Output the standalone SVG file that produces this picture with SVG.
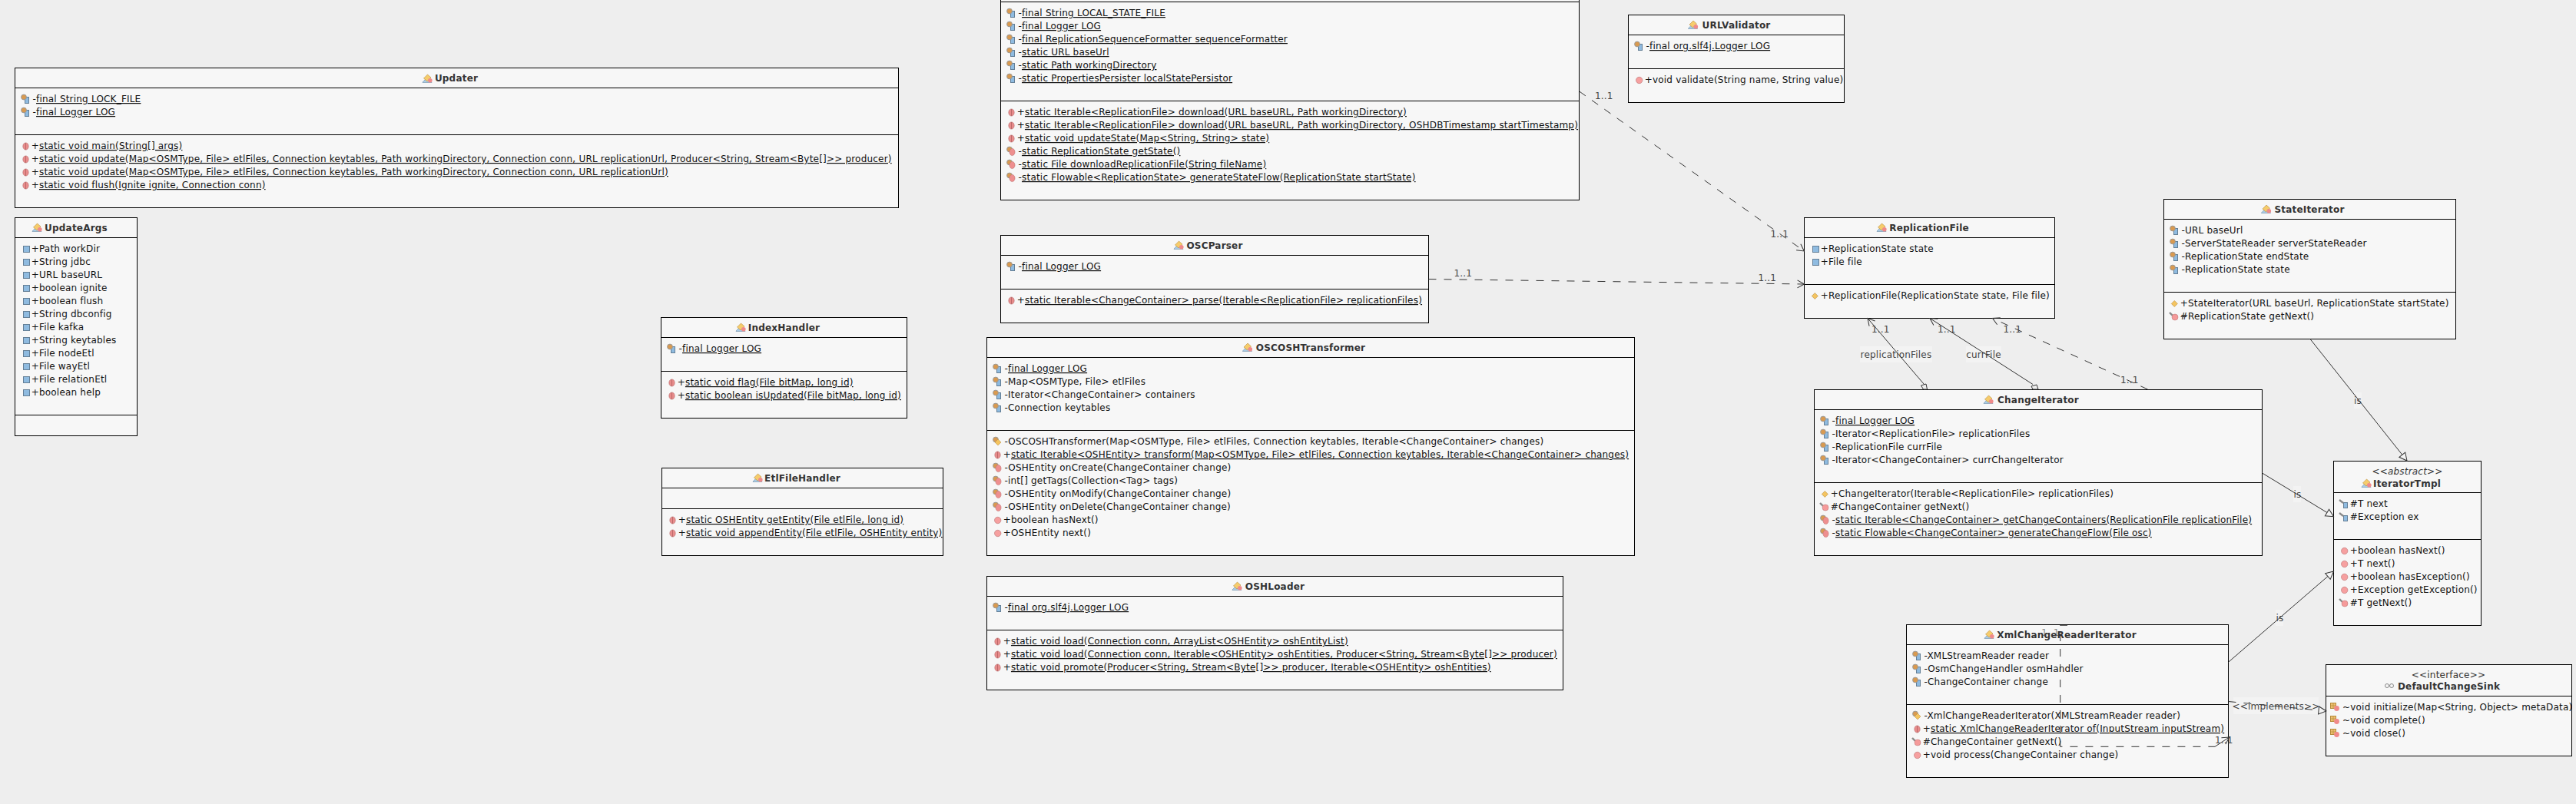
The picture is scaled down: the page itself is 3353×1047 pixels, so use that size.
<svg xmlns="http://www.w3.org/2000/svg" width="3353" height="1047" viewBox="0 0 3353 1047">
<style>
text{font-family:"DejaVu Sans","Liberation Sans",sans-serif;font-size:12px;letter-spacing:.2px}
.b{fill:#f7f7f7;stroke:#000;stroke-width:1}
.s{stroke:#000;stroke-width:1;fill:none}
.t{font-weight:bold;fill:#333;text-anchor:middle}
.r{fill:#111}
.u{text-decoration:underline}
.st{fill:#333;text-anchor:middle}
.i{font-style:italic}
.l{fill:#444}
.lc{fill:#444;text-anchor:middle}
.bg{fill:#f3f3f3}
.c{fill:none;stroke:#333;stroke-width:1}
.d{stroke-dasharray:10 10}
.o{marker-end:url(#open)}
.h{marker-end:url(#tri)}
.ag{fill:#eee;stroke:#333;stroke-width:1}
</style>
<defs>
<marker id="open" markerUnits="userSpaceOnUse" markerWidth="14" markerHeight="14" refX="11" refY="7" orient="auto" overflow="visible"><path d="M2,2 L11,7 L2,12" fill="none" stroke="#333" stroke-width="1"/></marker>
<marker id="tri" markerUnits="userSpaceOnUse" markerWidth="14" markerHeight="14" refX="12" refY="7" orient="auto" overflow="visible"><path d="M2,2 L12,7 L2,12 Z" fill="#f4f4f4" stroke="#333" stroke-width="1"/></marker>
<g id="cl"><path d="M0,5 L6,-1 L12,5 L12,5.5 L0,5.5 Z" fill="#a9cbe6" stroke="#6f8fa8" stroke-width=".6"/><path d="M1.5,0 L6.5,-5 L11,-1 L6,4 Z" fill="#f6cc6c" stroke="#b58a3a" stroke-width=".6"/><circle cx="9.8" cy="2.8" r="2.8" fill="#f08a8a"/></g>
<g id="fb"><rect x="11.5" y="-3.5" width="8" height="8" fill="#8fbbe0" stroke="#647f96"/></g>
<g id="per"><circle cx="5" cy="-2.5" r="3.4" fill="#d99a50" stroke="#9a9a9a" stroke-width="1"/></g>
<g id="fp"><rect x="13.5" y="-2.5" width="5" height="8" fill="#8fbbe0" stroke="#647f96"/><use href="#per" x="7" y="0"/></g>
<g id="fr"><rect x="13.5" y="-1.5" width="5" height="7" fill="#8fbbe0" stroke="#647f96"/><path d="M8,-5 L13,-1" stroke="#8a8a8a" stroke-width="2.4"/></g>
<g id="ms"><ellipse cx="14.5" cy="0.5" rx="3.7" ry="4.6" fill="#e88c8c" stroke="#b87070" stroke-width=".6"/><path d="M14.5,-4 V5" stroke="#b06060" stroke-width=".8"/></g>
<g id="mb"><circle cx="14.7" cy="0.5" r="4.2" fill="#f6a0a0" stroke="#b87070" stroke-width=".6"/></g>
<g id="c"><path d="M14.3,-3.5 L18.3,0.5 L14.3,4.5 L10.3,0.5 Z" fill="#f4c460" stroke="#b58a3a" stroke-width=".6"/></g>
<g id="mp"><use href="#per" x="7" y="0"/><ellipse cx="15.5" cy="1" rx="3.6" ry="4.6" fill="#ee8f8f" stroke="#b87070" stroke-width=".5"/></g>
<g id="mr"><path d="M8,-5 L12,-1" stroke="#8a8a8a" stroke-width="2.4"/><circle cx="15" cy="1" r="4" fill="#f59a9a" stroke="#b87070" stroke-width=".5"/></g>
<g id="cp"><use href="#per" x="7" y="0"/><path d="M15,-3 L19,1 L15,5 L11,1 Z" fill="#f4c460" stroke="#b58a3a" stroke-width=".5"/></g>
<g id="md"><rect x="6.5" y="-5.5" width="7" height="7" fill="#eec070" stroke="#b58a3a"/><path d="M10,-5 V1 M7,-2 H13" stroke="#b58a3a" stroke-width=".7"/><circle cx="14.5" cy="1.5" r="3.4" fill="#f08a8a"/></g>
</defs>
<rect width="3353" height="1047" fill="#eeeeee"/>

<g id="Updater">
<rect class="b" x="19.5" y="88.5" width="1150" height="182"/><path class="s" d="M19.5,114.5H1169.5M19.5,175.5H1169.5"/>
<use href="#cl" x="550" y="102"/><text class="t" x="594" y="106">Updater</text>
<use href="#fp" x="19" y="129"/><text class="r" x="42.5" y="133">-<tspan class="u">final String LOCK_FILE</tspan></text>
<use href="#fp" x="19" y="146"/><text class="r" x="42.5" y="150">-<tspan class="u">final Logger LOG</tspan></text>
<use href="#ms" x="19" y="190"/><text class="r" x="40.7" y="194">+<tspan class="u">static void main(String[] args)</tspan></text>
<use href="#ms" x="19" y="207"/><text class="r" x="40.7" y="211">+<tspan class="u">static void update(Map&lt;OSMType, File&gt; etlFiles, Connection keytables, Path workingDirectory, Connection conn, URL replicationUrl, Producer&lt;String, Stream&lt;Byte[]&gt;&gt; producer)</tspan></text>
<use href="#ms" x="19" y="224"/><text class="r" x="40.7" y="228">+<tspan class="u">static void update(Map&lt;OSMType, File&gt; etlFiles, Connection keytables, Path workingDirectory, Connection conn, URL replicationUrl)</tspan></text>
<use href="#ms" x="19" y="241"/><text class="r" x="40.7" y="245">+<tspan class="u">static void flush(Ignite ignite, Connection conn)</tspan></text>
</g>

<g id="UpdateArgs">
<rect class="b" x="19.5" y="283.5" width="159" height="284"/><path class="s" d="M19.5,309.5H178.5M19.5,540.5H178.5"/>
<use href="#cl" x="42" y="296"/><text class="t" x="99" y="301">UpdateArgs</text>
<use href="#fb" x="19" y="324"/><text class="r" x="40.7" y="328">+Path workDir</text>
<use href="#fb" x="19" y="341"/><text class="r" x="40.7" y="345">+String jdbc</text>
<use href="#fb" x="19" y="358"/><text class="r" x="40.7" y="362">+URL baseURL</text>
<use href="#fb" x="19" y="375"/><text class="r" x="40.7" y="379">+boolean ignite</text>
<use href="#fb" x="19" y="392"/><text class="r" x="40.7" y="396">+boolean flush</text>
<use href="#fb" x="19" y="409"/><text class="r" x="40.7" y="413">+String dbconfig</text>
<use href="#fb" x="19" y="426"/><text class="r" x="40.7" y="430">+File kafka</text>
<use href="#fb" x="19" y="443"/><text class="r" x="40.7" y="447">+String keytables</text>
<use href="#fb" x="19" y="460"/><text class="r" x="40.7" y="464">+File nodeEtl</text>
<use href="#fb" x="19" y="477"/><text class="r" x="40.7" y="481">+File wayEtl</text>
<use href="#fb" x="19" y="494"/><text class="r" x="40.7" y="498">+File relationEtl</text>
<use href="#fb" x="19" y="511"/><text class="r" x="40.7" y="515">+boolean help</text>
</g>

<g id="IndexHandler">
<rect class="b" x="860.5" y="413.5" width="320" height="131"/><path class="s" d="M860.5,439.5H1180.5M860.5,483.5H1180.5"/>
<use href="#cl" x="958" y="426"/><text class="t" x="1020.5" y="431">IndexHandler</text>
<use href="#fp" x="860" y="454"/><text class="r" x="883.5" y="458">-<tspan class="u">final Logger LOG</tspan></text>
<use href="#ms" x="860" y="498"/><text class="r" x="881.7" y="502">+<tspan class="u">static void flag(File bitMap, long id)</tspan></text>
<use href="#ms" x="860" y="515"/><text class="r" x="881.7" y="519">+<tspan class="u">static boolean isUpdated(File bitMap, long id)</tspan></text>
</g>

<g id="EtlFileHandler">
<rect class="b" x="861.5" y="609.5" width="366" height="114"/><path class="s" d="M861.5,635.5H1227.5M861.5,662.5H1227.5"/>
<use href="#cl" x="980" y="622"/><text class="t" x="1044.5" y="627">EtlFileHandler</text>
<use href="#ms" x="861" y="677"/><text class="r" x="882.7" y="681">+<tspan class="u">static OSHEntity getEntity(File etlFile, long id)</tspan></text>
<use href="#ms" x="861" y="694"/><text class="r" x="882.7" y="698">+<tspan class="u">static void appendEntity(File etlFile, OSHEntity entity)</tspan></text>
</g>

<g id="ReplicationState">
<rect class="b" x="1302.5" y="-40.5" width="753" height="301"/><path class="s" d="M1302.5,2.5H2055.5M1302.5,131.5H2055.5"/>
<use href="#fp" x="1302" y="17"/><text class="r" x="1325.5" y="21">-<tspan class="u">final String LOCAL_STATE_FILE</tspan></text>
<use href="#fp" x="1302" y="34"/><text class="r" x="1325.5" y="38">-<tspan class="u">final Logger LOG</tspan></text>
<use href="#fp" x="1302" y="51"/><text class="r" x="1325.5" y="55">-<tspan class="u">final ReplicationSequenceFormatter sequenceFormatter</tspan></text>
<use href="#fp" x="1302" y="68"/><text class="r" x="1325.5" y="72">-<tspan class="u">static URL baseUrl</tspan></text>
<use href="#fp" x="1302" y="85"/><text class="r" x="1325.5" y="89">-<tspan class="u">static Path workingDirectory</tspan></text>
<use href="#fp" x="1302" y="102"/><text class="r" x="1325.5" y="106">-<tspan class="u">static PropertiesPersister localStatePersistor</tspan></text>
<use href="#ms" x="1302" y="146"/><text class="r" x="1323.7" y="150">+<tspan class="u">static Iterable&lt;ReplicationFile&gt; download(URL baseURL, Path workingDirectory)</tspan></text>
<use href="#ms" x="1302" y="163"/><text class="r" x="1323.7" y="167">+<tspan class="u">static Iterable&lt;ReplicationFile&gt; download(URL baseURL, Path workingDirectory, OSHDBTimestamp startTimestamp)</tspan></text>
<use href="#ms" x="1302" y="180"/><text class="r" x="1323.7" y="184">+<tspan class="u">static void updateState(Map&lt;String, String&gt; state)</tspan></text>
<use href="#mp" x="1302" y="197"/><text class="r" x="1325.5" y="201">-<tspan class="u">static ReplicationState getState()</tspan></text>
<use href="#mp" x="1302" y="214"/><text class="r" x="1325.5" y="218">-<tspan class="u">static File downloadReplicationFile(String fileName)</tspan></text>
<use href="#mp" x="1302" y="231"/><text class="r" x="1325.5" y="235">-<tspan class="u">static Flowable&lt;ReplicationState&gt; generateStateFlow(ReplicationState startState)</tspan></text>
</g>

<g id="URLValidator">
<rect class="b" x="2119.5" y="19.5" width="281" height="114"/><path class="s" d="M2119.5,45.5H2400.5M2119.5,89.5H2400.5"/>
<use href="#cl" x="2197.5" y="32"/><text class="t" x="2260" y="37">URLValidator</text>
<use href="#fp" x="2119" y="60"/><text class="r" x="2142.5" y="64">-<tspan class="u">final org.slf4j.Logger LOG</tspan></text>
<use href="#mb" x="2119" y="104"/><text class="r" x="2140.7" y="108">+void validate(String name, String value)</text>
</g>

<g id="OSCParser">
<rect class="b" x="1302.5" y="306.5" width="557" height="114"/><path class="s" d="M1302.5,332.5H1859.5M1302.5,376.5H1859.5"/>
<use href="#cl" x="1528" y="319"/><text class="t" x="1581" y="324">OSCParser</text>
<use href="#fp" x="1302" y="347"/><text class="r" x="1325.5" y="351">-<tspan class="u">final Logger LOG</tspan></text>
<use href="#ms" x="1302" y="391"/><text class="r" x="1323.7" y="395">+<tspan class="u">static Iterable&lt;ChangeContainer&gt; parse(Iterable&lt;ReplicationFile&gt; replicationFiles)</tspan></text>
</g>

<g id="OSCOSHTransformer">
<rect class="b" x="1284.5" y="439.5" width="843" height="284"/><path class="s" d="M1284.5,465.5H2127.5M1284.5,560.5H2127.5"/>
<use href="#cl" x="1617.5" y="452"/><text class="t" x="1706" y="457">OSCOSHTransformer</text>
<use href="#fp" x="1284" y="480"/><text class="r" x="1307.5" y="484">-<tspan class="u">final Logger LOG</tspan></text>
<use href="#fp" x="1284" y="497"/><text class="r" x="1307.5" y="501">-Map&lt;OSMType, File&gt; etlFiles</text>
<use href="#fp" x="1284" y="514"/><text class="r" x="1307.5" y="518">-Iterator&lt;ChangeContainer&gt; containers</text>
<use href="#fp" x="1284" y="531"/><text class="r" x="1307.5" y="535">-Connection keytables</text>
<use href="#cp" x="1284" y="575"/><text class="r" x="1307.5" y="579">-OSCOSHTransformer(Map&lt;OSMType, File&gt; etlFiles, Connection keytables, Iterable&lt;ChangeContainer&gt; changes)</text>
<use href="#ms" x="1284" y="592"/><text class="r" x="1305.7" y="596">+<tspan class="u">static Iterable&lt;OSHEntity&gt; transform(Map&lt;OSMType, File&gt; etlFiles, Connection keytables, Iterable&lt;ChangeContainer&gt; changes)</tspan></text>
<use href="#mp" x="1284" y="609"/><text class="r" x="1307.5" y="613">-OSHEntity onCreate(ChangeContainer change)</text>
<use href="#mp" x="1284" y="626"/><text class="r" x="1307.5" y="630">-int[] getTags(Collection&lt;Tag&gt; tags)</text>
<use href="#mp" x="1284" y="643"/><text class="r" x="1307.5" y="647">-OSHEntity onModify(ChangeContainer change)</text>
<use href="#mp" x="1284" y="660"/><text class="r" x="1307.5" y="664">-OSHEntity onDelete(ChangeContainer change)</text>
<use href="#mb" x="1284" y="677"/><text class="r" x="1305.7" y="681">+boolean hasNext()</text>
<use href="#mb" x="1284" y="694"/><text class="r" x="1305.7" y="698">+OSHEntity next()</text>
</g>

<g id="OSHLoader">
<rect class="b" x="1284.5" y="750.5" width="750" height="148"/><path class="s" d="M1284.5,776.5H2034.5M1284.5,820.5H2034.5"/>
<use href="#cl" x="1604" y="763"/><text class="t" x="1659.5" y="768">OSHLoader</text>
<use href="#fp" x="1284" y="791"/><text class="r" x="1307.5" y="795">-<tspan class="u">final org.slf4j.Logger LOG</tspan></text>
<use href="#ms" x="1284" y="835"/><text class="r" x="1305.7" y="839">+<tspan class="u">static void load(Connection conn, ArrayList&lt;OSHEntity&gt; oshEntityList)</tspan></text>
<use href="#ms" x="1284" y="852"/><text class="r" x="1305.7" y="856">+<tspan class="u">static void load(Connection conn, Iterable&lt;OSHEntity&gt; oshEntities, Producer&lt;String, Stream&lt;Byte[]&gt;&gt; producer)</tspan></text>
<use href="#ms" x="1284" y="869"/><text class="r" x="1305.7" y="873">+<tspan class="u">static void promote(Producer&lt;String, Stream&lt;Byte[]&gt;&gt; producer, Iterable&lt;OSHEntity&gt; oshEntities)</tspan></text>
</g>

<g id="ReplicationFile">
<rect class="b" x="2348.5" y="283.5" width="326" height="131"/><path class="s" d="M2348.5,309.5H2674.5M2348.5,370.5H2674.5"/>
<use href="#cl" x="2443" y="296"/><text class="t" x="2511" y="301">ReplicationFile</text>
<use href="#fb" x="2348" y="324"/><text class="r" x="2369.7" y="328">+ReplicationState state</text>
<use href="#fb" x="2348" y="341"/><text class="r" x="2369.7" y="345">+File file</text>
<use href="#c" x="2348" y="385"/><text class="r" x="2369.7" y="389">+ReplicationFile(ReplicationState state, File file)</text>
</g>

<g id="StateIterator">
<rect class="b" x="2816.5" y="259.5" width="380" height="182"/><path class="s" d="M2816.5,285.5H3196.5M2816.5,380.5H3196.5"/>
<use href="#cl" x="2943.5" y="272"/><text class="t" x="3006" y="277">StateIterator</text>
<use href="#fp" x="2816" y="300"/><text class="r" x="2839.5" y="304">-URL baseUrl</text>
<use href="#fp" x="2816" y="317"/><text class="r" x="2839.5" y="321">-ServerStateReader serverStateReader</text>
<use href="#fp" x="2816" y="334"/><text class="r" x="2839.5" y="338">-ReplicationState endState</text>
<use href="#fp" x="2816" y="351"/><text class="r" x="2839.5" y="355">-ReplicationState state</text>
<use href="#c" x="2816" y="395"/><text class="r" x="2837.7" y="399">+StateIterator(URL baseUrl, ReplicationState startState)</text>
<use href="#mr" x="2816" y="412"/><text class="r" x="2837.7" y="416">#ReplicationState getNext()</text>
</g>

<g id="ChangeIterator">
<rect class="b" x="2361.5" y="507.5" width="583" height="216"/><path class="s" d="M2361.5,533.5H2944.5M2361.5,628.5H2944.5"/>
<use href="#cl" x="2582" y="520"/><text class="t" x="2653" y="525">ChangeIterator</text>
<use href="#fp" x="2361" y="548"/><text class="r" x="2384.5" y="552">-<tspan class="u">final Logger LOG</tspan></text>
<use href="#fp" x="2361" y="565"/><text class="r" x="2384.5" y="569">-Iterator&lt;ReplicationFile&gt; replicationFiles</text>
<use href="#fp" x="2361" y="582"/><text class="r" x="2384.5" y="586">-ReplicationFile currFile</text>
<use href="#fp" x="2361" y="599"/><text class="r" x="2384.5" y="603">-Iterator&lt;ChangeContainer&gt; currChangeIterator</text>
<use href="#c" x="2361" y="643"/><text class="r" x="2382.7" y="647">+ChangeIterator(Iterable&lt;ReplicationFile&gt; replicationFiles)</text>
<use href="#mr" x="2361" y="660"/><text class="r" x="2382.7" y="664">#ChangeContainer getNext()</text>
<use href="#mp" x="2361" y="677"/><text class="r" x="2384.5" y="681">-<tspan class="u">static Iterable&lt;ChangeContainer&gt; getChangeContainers(ReplicationFile replicationFile)</tspan></text>
<use href="#mp" x="2361" y="694"/><text class="r" x="2384.5" y="698">-<tspan class="u">static Flowable&lt;ChangeContainer&gt; generateChangeFlow(File osc)</tspan></text>
</g>

<g id="IteratorTmpl">
<rect class="b" x="3037.5" y="600.5" width="192" height="214"/><path class="s" d="M3037.5,641.5H3229.5M3037.5,702.5H3229.5"/>
<text class="st i" x="3133.5" y="618">&lt;&lt;abstract&gt;&gt;</text>
<use href="#cl" x="3074" y="629"/><text class="t" x="3133" y="634">IteratorTmpl</text>
<use href="#fr" x="3037" y="656"/><text class="r" x="3058.7" y="660">#T next</text>
<use href="#fr" x="3037" y="673"/><text class="r" x="3058.7" y="677">#Exception ex</text>
<use href="#mb" x="3037" y="717"/><text class="r" x="3058.7" y="721">+boolean hasNext()</text>
<use href="#mb" x="3037" y="734"/><text class="r" x="3058.7" y="738">+T next()</text>
<use href="#mb" x="3037" y="751"/><text class="r" x="3058.7" y="755">+boolean hasException()</text>
<use href="#mb" x="3037" y="768"/><text class="r" x="3058.7" y="772">+Exception getException()</text>
<use href="#mr" x="3037" y="785"/><text class="r" x="3058.7" y="789">#T getNext()</text>
</g>

<g id="XmlChangeReaderIterator">
<rect class="b" x="2481.5" y="813.5" width="419" height="199"/><path class="s" d="M2481.5,839.5H2900.5M2481.5,917.5H2900.5"/>
<use href="#cl" x="2583" y="826"/><text class="t" x="2690" y="831">XmlChangeReaderIterator</text>
<use href="#fp" x="2481" y="854"/><text class="r" x="2504.5" y="858">-XMLStreamReader reader</text>
<use href="#fp" x="2481" y="871"/><text class="r" x="2504.5" y="875">-OsmChangeHandler osmHandler</text>
<use href="#fp" x="2481" y="888"/><text class="r" x="2504.5" y="892">-ChangeContainer change</text>
<use href="#cp" x="2481" y="932"/><text class="r" x="2504.5" y="936">-XmlChangeReaderIterator(XMLStreamReader reader)</text>
<use href="#ms" x="2481" y="949"/><text class="r" x="2502.7" y="953">+<tspan class="u">static XmlChangeReaderIterator of(InputStream inputStream)</tspan></text>
<use href="#mr" x="2481" y="966"/><text class="r" x="2502.7" y="970">#ChangeContainer getNext()</text>
<use href="#mb" x="2481" y="983"/><text class="r" x="2502.7" y="987">+void process(ChangeContainer change)</text>
</g>

<g id="DefaultChangeSink">
<rect class="b" x="3027.5" y="865.5" width="320" height="119"/><path class="s" d="M3027.5,906.5H3347.5"/>
<text class="st" x="3187" y="883">&lt;&lt;interface&gt;&gt;</text>
<g fill="none" stroke="#888" stroke-width="1"><circle cx="3107" cy="893" r="2.5"/><circle cx="3113" cy="893" r="2.5"/></g>
<text class="t" x="3187.5" y="898">DefaultChangeSink</text>
<use href="#md" x="3027" y="921"/><text class="r" x="3049" y="925">~void initialize(Map&lt;String, Object&gt; metaData)</text>
<use href="#md" x="3027" y="938"/><text class="r" x="3049" y="942">~void complete()</text>
<use href="#md" x="3027" y="955"/><text class="r" x="3049" y="959">~void close()</text>
</g>

<g id="connectors">
<rect class="bg" x="2421" y="451" width="94" height="21"/>
<rect class="bg" x="2559" y="451" width="46" height="21"/>
<rect class="bg" x="3064" y="511" width="10" height="21"/>
<rect class="bg" x="2985" y="633" width="10" height="21"/>
<rect class="bg" x="2962" y="794" width="10" height="21"/>
<rect class="bg" x="2907" y="908" width="111" height="22"/>
<text class="lc" x="2468" y="466">replicationFiles</text>
<text class="lc" x="2582" y="466">currFile</text>
<text class="lc" x="3069" y="526">is</text>
<text class="lc" x="2990.5" y="648">is</text>
<text class="lc" x="2967.5" y="809">is</text>
<text class="lc" x="2962.5" y="924">&lt;&lt;implements&gt;&gt;</text>
<path class="c d o" d="M2055.7,119 L2348.3,327"/>
<path class="c d o" d="M1859.5,363.5 L2348.5,370"/>
<path class="c o" d="M2504.5,500.5 L2431,414.5"/>
<path class="ag" d="M2500.5,502 L2507,500 L2508.5,507 L2503.5,507 Z"/>
<path class="c o" d="M2646,500.5 L2512,414.5"/>
<path class="ag" d="M2644,503 L2651,501 L2653,507 L2646,507 Z"/>
<path class="c d o" d="M2795.5,507 L2593.5,414.5"/>
<path class="c h" d="M3007,441.5 L3133,600"/>
<path class="c h" d="M2944.5,616 L3037.5,672.7"/>
<path class="c h" d="M2900.5,862.3 L3037.5,744"/>
<path class="c d h" d="M2900.5,913.5 L3028,926"/>
<path class="c d" d="M2691,814.3 H2681.7 V972.3 H2883"/>
<path class="c o" d="M2883,972.3 L2901.7,960"/>
<text class="l" x="2076" y="129">1..1</text>
<text class="l" x="2304.5" y="309">1..1</text>
<text class="l" x="1892.5" y="360">1..1</text>
<text class="l" x="2288.5" y="366">1..1</text>
<text class="l" x="2436" y="433">1..1</text>
<text class="l" x="2522" y="433">1..1</text>
<text class="l" x="2607.5" y="433">1..1</text>
<text class="l" x="2760" y="499">1..1</text>
<text class="l" x="2657" y="828" opacity=".6">1..1</text>
<text class="l" x="2883" y="968">1..1</text>
</g>
</svg>
